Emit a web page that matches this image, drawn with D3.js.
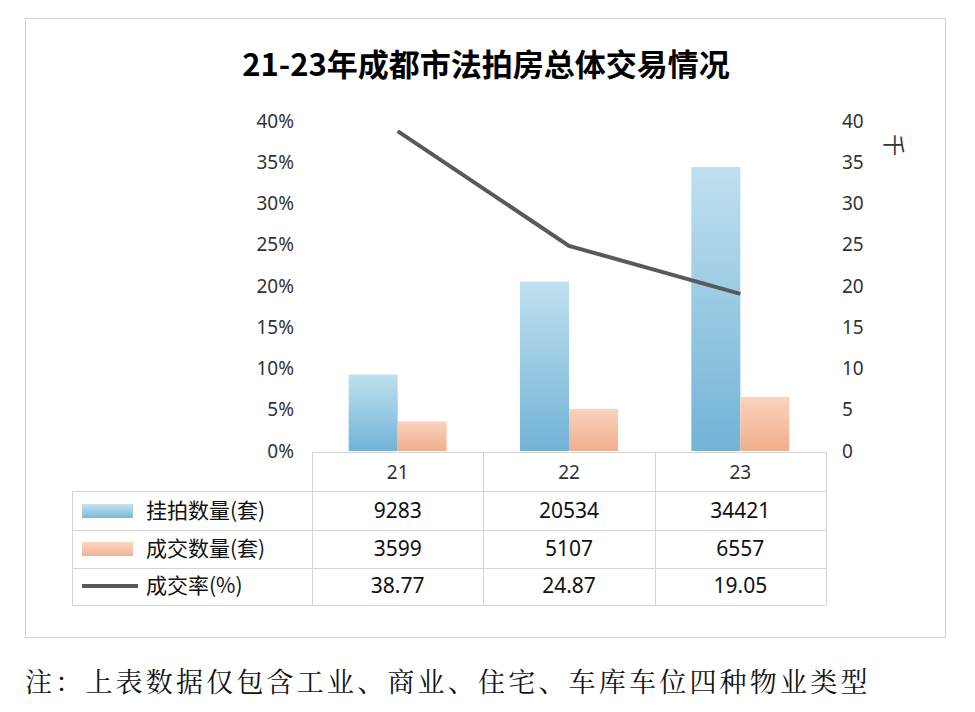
<!DOCTYPE html>
<html><head><meta charset="utf-8">
<script src="https://cdn.jsdelivr.net/npm/d3@7"></script>
<style>body{margin:0;background:#fff;font-family:"Noto Sans CJK SC","Noto Sans",sans-serif}</style>
</head><body><svg id="c" width="975" height="712"></svg>
<script>
const categories = ["21","22","23"];
const listed = [9283,20534,34421];
const sold = [3599,5107,6557];
const rate = [38.77,24.87,19.05];
const rateLabels = ["38.77","24.87","19.05"];
const leftTicks = [0,5,10,15,20,25,30,35,40];
const rightTicks = [0,5,10,15,20,25,30,35,40];
const seriesNames = ["挂拍数量(套)","成交数量(套)","成交率(%)"];

const svg = d3.select("#c");
const defs = svg.append("defs");
function grad(id, top, bot){
  const g = defs.append("linearGradient").attr("id",id).attr("x1",0).attr("y1",0).attr("x2",0).attr("y2",1);
  g.append("stop").attr("offset","0%").attr("stop-color",top);
  g.append("stop").attr("offset","100%").attr("stop-color",bot);
}
grad("gb","#bfe0ef","#72b3d6");
grad("go","#fad3bd","#f0ae8c");
grad("gbl","#c6e3f1","#7ab8d9");
grad("gol","#fbd6c2","#f2b192");

svg.append("rect").attr("x",25.5).attr("y",18.5).attr("width",920).attr("height",619).attr("fill","#fff").attr("stroke","#d0d0d0");
svg.append("text").attr("x",486).attr("y",76).attr("text-anchor","middle").attr("font-size",31).attr("font-weight","bold").attr("fill","#000").text("21-23年成都市法拍房总体交易情况");

const x0 = 312, x1 = 826, yTop = 121, yBot = 451;
const x = d3.scaleBand().domain(categories).range([x0,x1]);
const yL = d3.scaleLinear().domain([0,40]).range([yBot,yTop]);
const yR = d3.scaleLinear().domain([0,40000]).range([yBot,yTop]);
const bw = 49;

const gL = svg.append("g").attr("transform",`translate(${x0},0)`)
  .call(d3.axisLeft(yL).tickValues(leftTicks).tickFormat(d=>d+"%").tickSize(0).tickPadding(18));
const gR = svg.append("g").attr("transform",`translate(${x1},0)`)
  .call(d3.axisRight(yR).tickValues(rightTicks.map(d=>d*1000)).tickFormat(d=>d/1000).tickSize(0).tickPadding(16));
[gL,gR].forEach(g=>{g.select(".domain").remove();g.selectAll("text").attr("font-size",19).attr("fill","#333").attr("font-family","'Noto Sans','Open Sans',sans-serif");});
svg.append("text").attr("transform","translate(886,145) rotate(90)").attr("text-anchor","middle").attr("font-size",22).attr("fill","#333").text("千");

svg.append("g").selectAll("rect").data(categories).join("rect")
  .attr("x",d=>x(d)+x.bandwidth()/2-bw).attr("width",bw)
  .attr("y",(d,i)=>yR(listed[i])).attr("height",(d,i)=>yBot-yR(listed[i])).attr("fill","url(#gb)");
svg.append("g").selectAll("rect").data(categories).join("rect")
  .attr("x",d=>x(d)+x.bandwidth()/2).attr("width",bw)
  .attr("y",(d,i)=>yR(sold[i])).attr("height",(d,i)=>yBot-yR(sold[i])).attr("fill","url(#go)");

svg.append("path").datum(rate)
  .attr("d",d3.line().x((d,i)=>x(categories[i])+x.bandwidth()/2).y(d=>yL(d)))
  .attr("fill","none").attr("stroke","#595959").attr("stroke-width",4);

const rows = [452,491,530,568,605];
const lc = "#d4d4d4";
const t = svg.append("g");
t.append("line").attr("x1",x0).attr("x2",x1).attr("y1",rows[0]+.5).attr("y2",rows[0]+.5).attr("stroke",lc);
rows.slice(1).forEach(r=>t.append("line").attr("x1",72).attr("x2",x1).attr("y1",r+.5).attr("y2",r+.5).attr("stroke",lc));
t.append("line").attr("x1",72.5).attr("x2",72.5).attr("y1",rows[1]).attr("y2",rows[4]).attr("stroke",lc);
[x0,x0+171,x0+343,x1].forEach(v=>t.append("line").attr("x1",v+.5).attr("x2",v+.5).attr("y1",rows[0]).attr("y2",rows[4]).attr("stroke",lc));
const tf = "'Noto Sans','Open Sans',sans-serif";
categories.forEach((c,i)=>{
  const cx = x(c)+x.bandwidth()/2;
  t.append("text").attr("x",cx).attr("y",479).attr("text-anchor","middle").attr("font-size",19).attr("font-family",tf).attr("fill","#333").text(c);
  t.append("text").attr("x",cx).attr("y",518).attr("text-anchor","middle").attr("font-size",21).attr("font-family",tf).attr("fill","#111").text(listed[i]);
  t.append("text").attr("x",cx).attr("y",556).attr("text-anchor","middle").attr("font-size",21).attr("font-family",tf).attr("fill","#111").text(sold[i]);
  t.append("text").attr("x",cx).attr("y",593).attr("text-anchor","middle").attr("font-size",21).attr("font-family",tf).attr("fill","#111").text(rateLabels[i]);
});
t.append("rect").attr("x",82).attr("y",504).attr("width",51).attr("height",14).attr("fill","url(#gbl)");
t.append("rect").attr("x",82).attr("y",542).attr("width",51).attr("height",14).attr("fill","url(#gol)");
t.append("line").attr("x1",82).attr("x2",138).attr("y1",586).attr("y2",586).attr("stroke","#595959").attr("stroke-width",4);
seriesNames.forEach((s,i)=>t.append("text").attr("x",146).attr("y",[518,556,593][i]).attr("font-size",21).attr("fill","#111").text(s));

svg.append("text").attr("x",25).attr("y",692).attr("font-size",27).attr("letter-spacing",3.2).attr("fill","#111")
  .attr("font-family","'Noto Serif CJK SC','Noto Sans CJK SC',serif").text("注：上表数据仅包含工业、商业、住宅、车库车位四种物业类型");
</script></body></html>
